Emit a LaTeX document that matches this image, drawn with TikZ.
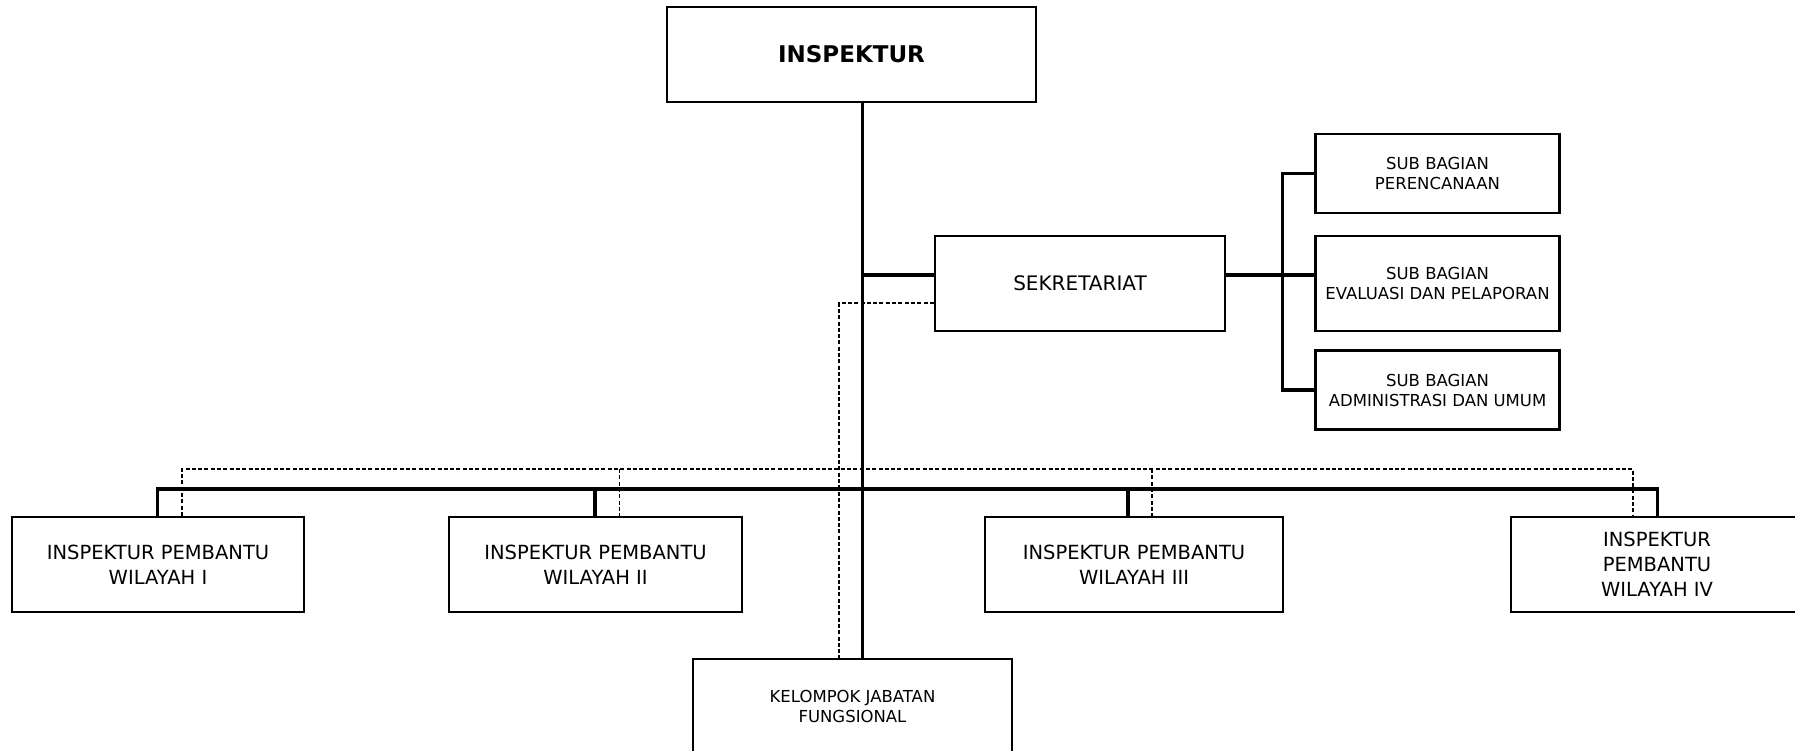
\documentclass[tikz,border=0pt]{standalone}
\usepackage{fontspec}
\setmainfont{DejaVu Sans}
\begin{document}
\begin{tikzpicture}[x=1pt,y=-1pt,
  box/.style={draw,line width=2.3pt,rectangle,inner sep=0pt,align=center},
  bus/.style={line width=3.7pt},
  dline/.style={line width=1.8pt,dash pattern=on 4pt off 2.3pt},
  big/.style={font=\fontsize{19.5}{25}\selectfont},
  small/.style={font=\fontsize{16.5}{20}\selectfont}]
\useasboundingbox (0,0) rectangle (1795,751);
\clip (0,0) rectangle (1795,751);
% nodes
\node[box,minimum width=369pt,minimum height=95pt,font=\fontsize{23}{28}\selectfont\bfseries] (insp) at (851.5,54.5) {INSPEKTUR};
\node[box,minimum width=290pt,minimum height=95pt,font=\fontsize{20}{25}\selectfont] (sek) at (1080,283.5) {SEKRETARIAT};
\node[box,small,minimum width=244pt,minimum height=79pt] (sb1) at (1437.5,173.5) {SUB BAGIAN\\PERENCANAAN};
\node[box,small,minimum width=244pt,minimum height=95pt] (sb2) at (1437.5,283.5) {SUB BAGIAN\\EVALUASI DAN PELAPORAN};
\node[box,small,minimum width=244pt,minimum height=79pt] (sb3) at (1437.5,390) {SUB BAGIAN\\ADMINISTRASI DAN UMUM};
\node[box,big,minimum width=292pt,minimum height=95pt] (ipw1) at (158,564.5) {INSPEKTUR PEMBANTU\\WILAYAH I};
\node[box,big,minimum width=293pt,minimum height=95pt] (ipw2) at (595.5,564.5) {INSPEKTUR PEMBANTU\\WILAYAH II};
\node[box,big,minimum width=298pt,minimum height=95pt] (ipw3) at (1134,564.5) {INSPEKTUR PEMBANTU\\WILAYAH III};
\node[box,big,minimum width=292pt,minimum height=95pt] (ipw4) at (1657,564.5) {INSPEKTUR\\PEMBANTU\\WILAYAH IV};
\node[box,small,minimum width=319pt,minimum height=94pt] (kel) at (852.5,706) {KELOMPOK JABATAN\\FUNGSIONAL};
% reference coordinates
\coordinate (tr) at (862.5,0);
\coordinate (sy) at (0,275);
\coordinate (sdy) at (0,303);
\coordinate (dk) at (839,0);
\coordinate (bx) at (1282.5,0);
\coordinate (busy) at (0,489);
\coordinate (dbusy) at (0,469);
\coordinate (s1) at (157.5,0);
\coordinate (s2) at (595,0);
\coordinate (s3) at (1128,0);
\coordinate (s4) at (1657.5,0);
\coordinate (d1) at (182,0);
\coordinate (d2) at (619.5,0);
\coordinate (d3) at (1152,0);
\coordinate (d4) at (1633,0);
% dashed lines
\draw[dline] (sek.west |- sdy) -- (dk |- sdy) -- (kel.north -| dk);
\draw[dline] (ipw1.north -| d1) -- (d1 |- dbusy) -- (d4 |- dbusy) -- (ipw4.north -| d4);
\draw[dline] (d2 |- dbusy) -- (ipw2.north -| d2);
\draw[dline] (d3 |- dbusy) -- (ipw3.north -| d3);
% solid lines
\draw[bus] (insp.south -| tr) -- (kel.north -| tr);
\draw[bus] (tr |- sy) -- (sek.west |- sy);
\draw[bus] (sek.east |- sy) -- (sb2.west |- sy);
\draw[bus] (sb1.west) -- (bx |- sb1.west) -- (bx |- sb3.west) -- (sb3.west);
\draw[bus] (ipw1.north -| s1) -- (s1 |- busy) -- (s4 |- busy) -- (ipw4.north -| s4);
\draw[bus] (s2 |- busy) -- (ipw2.north -| s2);
\draw[bus] (s3 |- busy) -- (ipw3.north -| s3);
\end{tikzpicture}
\end{document}
